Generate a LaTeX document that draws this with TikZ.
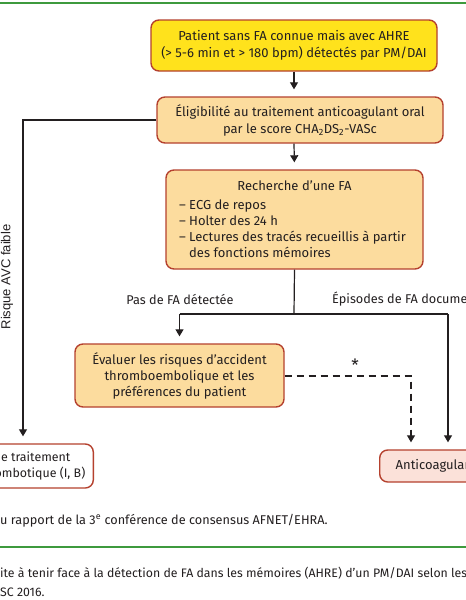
\documentclass[tikz,border=0pt]{standalone}
\usepackage{fontspec}
\setmainfont{Fira Sans}
\newfontfamily\arialf{Liberation Sans}
\usetikzlibrary{arrows.meta}
\definecolor{ink}{HTML}{231F20}
\definecolor{boxred}{HTML}{B5412E}
\definecolor{yel}{HTML}{FFE21C}
\definecolor{ora}{HTML}{FCDC9E}
\definecolor{pnk}{HTML}{FBE1D9}
\definecolor{grn}{HTML}{3E9A3E}
\tikzset{
  fc/.style={draw=boxred, line width=1.4pt, rounded corners=8pt, text=ink, align=center, inner sep=0pt, font=\fontsize{13}{17}\selectfont},
  conn/.style={draw=ink, line width=1.2pt, -{Triangle[length=7pt,width=8pt]}, shorten >=7pt},
  plain/.style={draw=ink, line width=1.2pt},
  lbl/.style={text=ink, inner sep=0pt, font=\fontsize{12.7}{16}\selectfont},
  greenline/.style={draw=grn, line width=1.6pt}
}
\begin{document}
\begin{tikzpicture}[x=1pt,y=-1pt]
\useasboundingbox (0,0) rectangle (466,600);
\clip (0,0) rectangle (466,600);
\fill[white] (0,0) rectangle (466,600);
\draw[greenline] (-5,3) -- (471,3);
\draw[greenline] (-5,547) -- (471,547);

\node[fc, fill=yel, minimum width=286pt, minimum height=51pt] (b1) at (294,45.5)
  {Patient sans FA connue mais avec AHRE\\(> 5-6 min et > 180 bpm) détectés par PM/DAI};
\node[fc, fill=ora, minimum width=286pt, minimum height=46pt] (b2) at (300,120)
  {Éligibilité au traitement anticoagulant oral\\par le score CHA\textsubscript{2}DS\textsubscript{2}-VASc};
\node[fc, fill=ora, minimum width=257pt, minimum height=99pt] (b3) at (294.5,219.5)
  {\begin{minipage}{231pt}\fontsize{13}{16}\selectfont\centering Recherche d'une FA\par\vspace{3pt}\raggedright
   –\ ECG de repos\\
   –\ Holter des 24 h\\
   –\ Lectures des tracés recueillis à partir\\
   \phantom{–\ }des fonctions mémoires\end{minipage}};
\node[fc, fill=ora, minimum width=209pt, minimum height=63pt, font=\fontsize{13}{16}\selectfont] (b4) at (179.5,375.5)
  {Évaluer les risques d'accident\\thromboembolique et les\\préférences du patient};
\node[fc, fill=pnk, minimum height=32pt, inner xsep=16pt, anchor=west] (b5) at (379,466)
  {Anticoagulants oraux};
\node[fc, fill=white, minimum height=44pt, inner xsep=8pt, anchor=east, font=\fontsize{12.4}{16}\selectfont] (b6) at (94,466)
  {Pas de traitement\\antithrombotique (I, B)};

\coordinate (c1) at (23,120);
\coordinate (j) at (294,314);
\coordinate (jl) at (179.5,314);
\coordinate (jr) at (448,314);
\coordinate (d1) at (411,376);

\draw[conn] (b1.south -| 294,0) -- (294,0 |- b2.north);
\draw[conn] (294,0 |- b2.south) -- (b3.north);
\draw[conn] (b2.west) -- (c1) -- (c1 |- b6.north);
\draw[plain] (b3.south) -- (j);
\draw[plain] (jl) -- (jr);
\draw[conn] (jl) -- (b4.north);
\draw[conn] (jr) -- (jr |- b5.north);
\draw[conn, dashed, dash pattern=on 7pt off 5pt] (b4.east |- d1) -- (d1) -- (d1 |- b5.north);

\node[lbl] (l1) at (180,299) {Pas de FA détectée};
\node[lbl, anchor=west] (l2) at (332,299) {Épisodes de FA documentés};
\node[text=ink, inner sep=0pt, font=\fontsize{17}{17}\selectfont] (l3) at (355,365) {*};
\node[text=ink, inner sep=0pt, rotate=90, font=\arialf\fontsize{13}{13}\selectfont] (l4) at (7,277) {Risque AVC faible};

\node[lbl, anchor=base west] (f1) at (0,524) {\llap{Adapté d}u rapport de la 3\textsuperscript{e} conférence de consensus AFNET/EHRA.};
\node[lbl, anchor=base west, font=\fontsize{12.3}{16}\selectfont] (f2) at (0,577) {\llap{Condu}ite à tenir face à la détection de FA dans les mémoires (AHRE) d'un PM/DAI selon les recommandations};
\node[lbl, anchor=base west, font=\fontsize{12.3}{16}\selectfont] (f3) at (0,596) {\llap{E}SC 2016.};
\end{tikzpicture}
\end{document}
